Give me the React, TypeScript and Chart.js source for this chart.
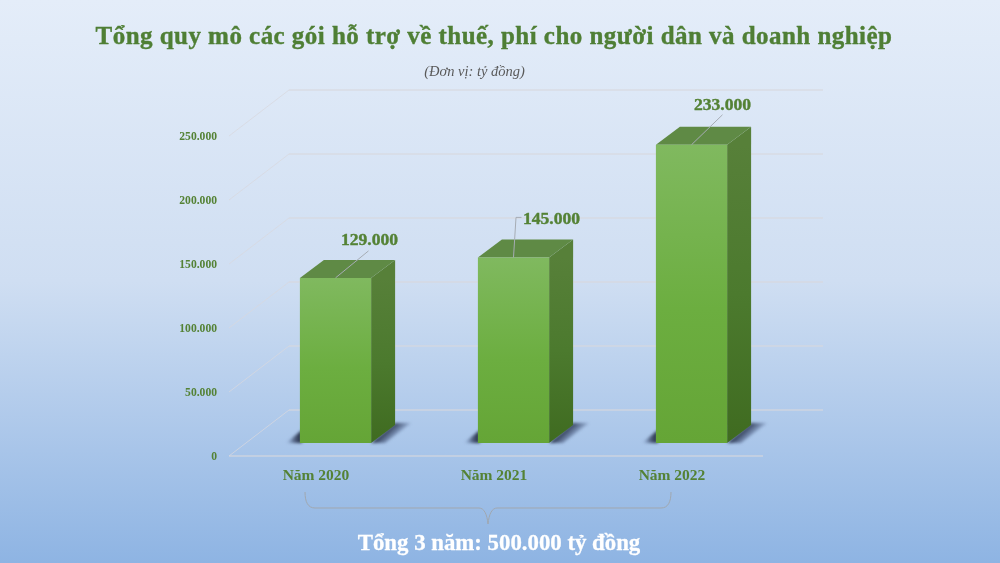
import React, { useEffect, useRef } from "react";
import Chart from "chart.js/auto";

const years = ["Năm 2020", "Năm 2021", "Năm 2022"];
const packageValues = [129000, 145000, 233000];
const yMax = 250000;
const yStep = 50000;

const GREEN = "#548235";
const SERIF = '"Liberation Serif", serif';

// fake 3D: wall depth, and how far the bars sit into the floor
const WALL_DX = 60;
const WALL_DY = -46;
const BAR_DX = 17.5;
const BAR_DY = -13;
const SIDE_DX = 24;
const SIDE_DY = -18;

// value label + leader line, relative to the top-centre of each bar
const labelLayout = [
    { tx: 34, ty: -37.5, line: [[33, -27]] },
    { tx: 38, ty: -37.5, line: [[2.5, -40], [8, -40]] },
    { tx: 31, ty: -39.5, line: [[31, -30]] },
];

const fmt = (v: number) => v.toLocaleString("de-DE");

const box3d = {
    id: "box3d",
    beforeDatasetsDraw(chart: any) {
        const { ctx, chartArea, scales } = chart;
        const { left, right } = chartArea;

        // side wall and back wall lines
        ctx.save();
        scales.y.ticks.forEach((t: any) => {
            const y = scales.y.getPixelForValue(t.value);
            ctx.strokeStyle = "rgba(216,216,222,0.75)";
            ctx.lineWidth = 1;
            ctx.beginPath();
            ctx.moveTo(left, y);
            ctx.lineTo(left + WALL_DX, y + WALL_DY);
            ctx.stroke();
            ctx.lineWidth = 1.4;
            ctx.beginPath();
            ctx.moveTo(left + WALL_DX, y + WALL_DY);
            ctx.lineTo(right + WALL_DX, y + WALL_DY);
            ctx.stroke();
        });
        const y0 = scales.y.getPixelForValue(0);
        ctx.lineWidth = 1.4;
        ctx.beginPath();
        ctx.moveTo(left, y0);
        ctx.lineTo(right, y0);
        ctx.stroke();
        ctx.restore();

        chart.getDatasetMeta(0).data.forEach((bar: any) => {
            const l = bar.x - bar.width / 2 + BAR_DX;
            const r = bar.x + bar.width / 2 + BAR_DX;
            const t = bar.y + BAR_DY;
            const b = bar.base + BAR_DY;

            // floor shadow
            ctx.save();
            ctx.filter = "blur(1.5px)";
            const sh = ctx.createLinearGradient(r + 12, b - 10, r + 22, b + 1);
            sh.addColorStop(0, "rgba(35,45,68,0.95)");
            sh.addColorStop(0.5, "rgba(60,75,110,0.55)");
            sh.addColorStop(1, "rgba(90,115,160,0)");
            ctx.fillStyle = sh;
            ctx.beginPath();
            ctx.moveTo(r, b);
            ctx.lineTo(r + SIDE_DX, b + SIDE_DY - 2);
            ctx.lineTo(r + SIDE_DX + 16, b + SIDE_DY - 2);
            ctx.lineTo(r + 14, b);
            ctx.closePath();
            ctx.fill();
            const sl = ctx.createLinearGradient(l - 14, b, l, b);
            sl.addColorStop(0, "rgba(90,115,160,0)");
            sl.addColorStop(0.6, "rgba(55,68,98,0.75)");
            sl.addColorStop(1, "rgba(35,45,68,0.95)");
            ctx.fillStyle = sl;
            ctx.beginPath();
            ctx.moveTo(l - 14, b);
            ctx.lineTo(l + 2, b - 13);
            ctx.lineTo(l + 2, b);
            ctx.closePath();
            ctx.fill();
            ctx.restore();

            // side face
            const side = ctx.createLinearGradient(0, t, 0, b);
            side.addColorStop(0, "#578039");
            side.addColorStop(0.5, "#4c7a2e");
            side.addColorStop(1, "#3f6b20");
            ctx.fillStyle = side;
            ctx.beginPath();
            ctx.moveTo(r, t);
            ctx.lineTo(r + SIDE_DX, t + SIDE_DY);
            ctx.lineTo(r + SIDE_DX, b + SIDE_DY);
            ctx.lineTo(r, b);
            ctx.closePath();
            ctx.fill();

            // top face
            ctx.fillStyle = "#5f8a45";
            ctx.beginPath();
            ctx.moveTo(l, t);
            ctx.lineTo(l + SIDE_DX, t + SIDE_DY);
            ctx.lineTo(r + SIDE_DX, t + SIDE_DY);
            ctx.lineTo(r, t);
            ctx.closePath();
            ctx.fill();
        });
    },
    beforeDatasetDraw(chart: any) {
        chart.ctx.save();
        chart.ctx.translate(BAR_DX, BAR_DY);
    },
    afterDatasetDraw(chart: any) {
        chart.ctx.restore();
    },
    afterDatasetsDraw(chart: any) {
        const { ctx, scales } = chart;
        const bars = chart.getDatasetMeta(0).data;

        bars.forEach((bar: any, i: number) => {
            const cx = bar.x + BAR_DX;
            const top = bar.y + BAR_DY;
            const lay = labelLayout[i];

            ctx.save();
            ctx.strokeStyle = "#a6acb4";
            ctx.lineWidth = 1;
            ctx.beginPath();
            ctx.moveTo(cx, top);
            lay.line.forEach(([dx, dy]) => ctx.lineTo(cx + dx, top + dy));
            ctx.stroke();

            ctx.fillStyle = GREEN;
            ctx.strokeStyle = GREEN;
            ctx.lineWidth = 0.4;
            ctx.font = `bold 17.6px ${SERIF}`;
            ctx.textAlign = "center";
            ctx.textBaseline = "middle";
            ctx.fillText(fmt(packageValues[i]), cx + lay.tx, top + lay.ty);
            ctx.strokeText(fmt(packageValues[i]), cx + lay.tx, top + lay.ty);
            ctx.restore();
        });

        // curly bracket under the three years
        const x0 = scales.x.getPixelForValue(0) - 13;
        const x1 = scales.x.getPixelForValue(2) - 3;
        const xm = (x0 + x1) / 2;
        ctx.save();
        ctx.strokeStyle = "#a0a7af";
        ctx.lineWidth = 1;
        ctx.beginPath();
        ctx.moveTo(x0, 492);
        ctx.bezierCurveTo(x0, 502, x0 + 3, 508, x0 + 10, 508);
        ctx.lineTo(xm - 9, 508);
        ctx.bezierCurveTo(xm - 4, 508, xm - 1, 514, xm, 524);
        ctx.bezierCurveTo(xm + 1, 514, xm + 4, 508, xm + 9, 508);
        ctx.lineTo(x1 - 10, 508);
        ctx.bezierCurveTo(x1 - 3, 508, x1, 502, x1, 492);
        ctx.stroke();
        ctx.restore();
    },
};

const textStyle = (top: number, center: number): React.CSSProperties => ({
    position: "absolute",
    top,
    left: center - 500,
    width: 1000,
    textAlign: "center",
    fontFamily: SERIF,
    whiteSpace: "nowrap",
});

const App: React.FC = () => {
    const chartRef = useRef<HTMLCanvasElement | null>(null);

    useEffect(() => {
        if (!chartRef.current) return;
        const ctx = chartRef.current.getContext("2d");
        if (!ctx) return;

        const chart = new Chart(ctx, {
            type: "bar",
            data: {
                labels: years,
                datasets: [
                    {
                        data: packageValues,
                        barPercentage: 0.4,
                        categoryPercentage: 1,
                        backgroundColor: (c: any) => {
                            const { chart: ch } = c;
                            if (!ch.chartArea) return "#6bae41";
                            const top = ch.scales.y.getPixelForValue(packageValues[c.dataIndex]);
                            const g = ch.ctx.createLinearGradient(0, top, 0, ch.scales.y.getPixelForValue(0));
                            g.addColorStop(0, "#80b95f");
                            g.addColorStop(0.55, "#6cae40");
                            g.addColorStop(1, "#65a536");
                            return g;
                        },
                    },
                ],
            },
            options: {
                responsive: false,
                animation: false,
                devicePixelRatio: 1,
                layout: { padding: { top: 136, right: 237, left: 0, bottom: 0 } },
                plugins: { legend: { display: false }, tooltip: { enabled: false } },
                scales: {
                    x: {
                        grid: { display: false },
                        border: { display: false },
                        afterFit: (s: any) => {
                            s.height = 107;
                        },
                        ticks: {
                            color: GREEN,
                            padding: 3,
                            labelOffset: -2,
                            maxRotation: 0,
                            font: { family: SERIF, size: 15.5, weight: "bold" },
                        },
                    },
                    y: {
                        min: 0,
                        max: yMax,
                        grid: { display: false },
                        border: { display: false },
                        afterFit: (s: any) => {
                            s.width = 229;
                        },
                        ticks: {
                            stepSize: yStep,
                            color: GREEN,
                            padding: 4,
                            labelOffset: 1,
                            font: { family: SERIF, size: 11.6, weight: "bold" },
                            callback: (v: any) => fmt(Number(v)),
                        },
                    },
                },
            },
            plugins: [box3d],
        } as any);

        return () => {
            chart.destroy();
        };
    }, []);

    return (
        <div
            style={{
                position: "fixed",
                left: 0,
                top: 0,
                width: 1000,
                height: 563,
                overflow: "hidden",
                background: "linear-gradient(180deg, #e4edf9 0%, #cfdef2 50%, #8eb4e3 100%)",
            }}
        >
            <canvas ref={chartRef} width={1000} height={563} style={{ position: "absolute", left: 0, top: 0 }} />
            <div style={{ ...textStyle(21, 494), fontSize: 25, lineHeight: "30px", fontWeight: "bold", color: "#4f7f35", letterSpacing: 0.46, WebkitTextStroke: "0.4px #4f7f35" }}>
                Tổng quy mô các gói hỗ trợ về thuế, phí cho người dân và doanh nghiệp
            </div>
            <div style={{ ...textStyle(63, 474.5), fontSize: 14.5, lineHeight: "16px", fontStyle: "italic", color: "#595959" }}>
                (Đơn vị: tỷ đồng)
            </div>
            <div style={{ ...textStyle(529, 499), fontSize: 22.8, lineHeight: "28px", fontWeight: "bold", color: "#ffffff", WebkitTextStroke: "0.3px #ffffff" }}>
                Tổng 3 năm: 500.000 tỷ đồng
            </div>
        </div>
    );
};

export default App;
